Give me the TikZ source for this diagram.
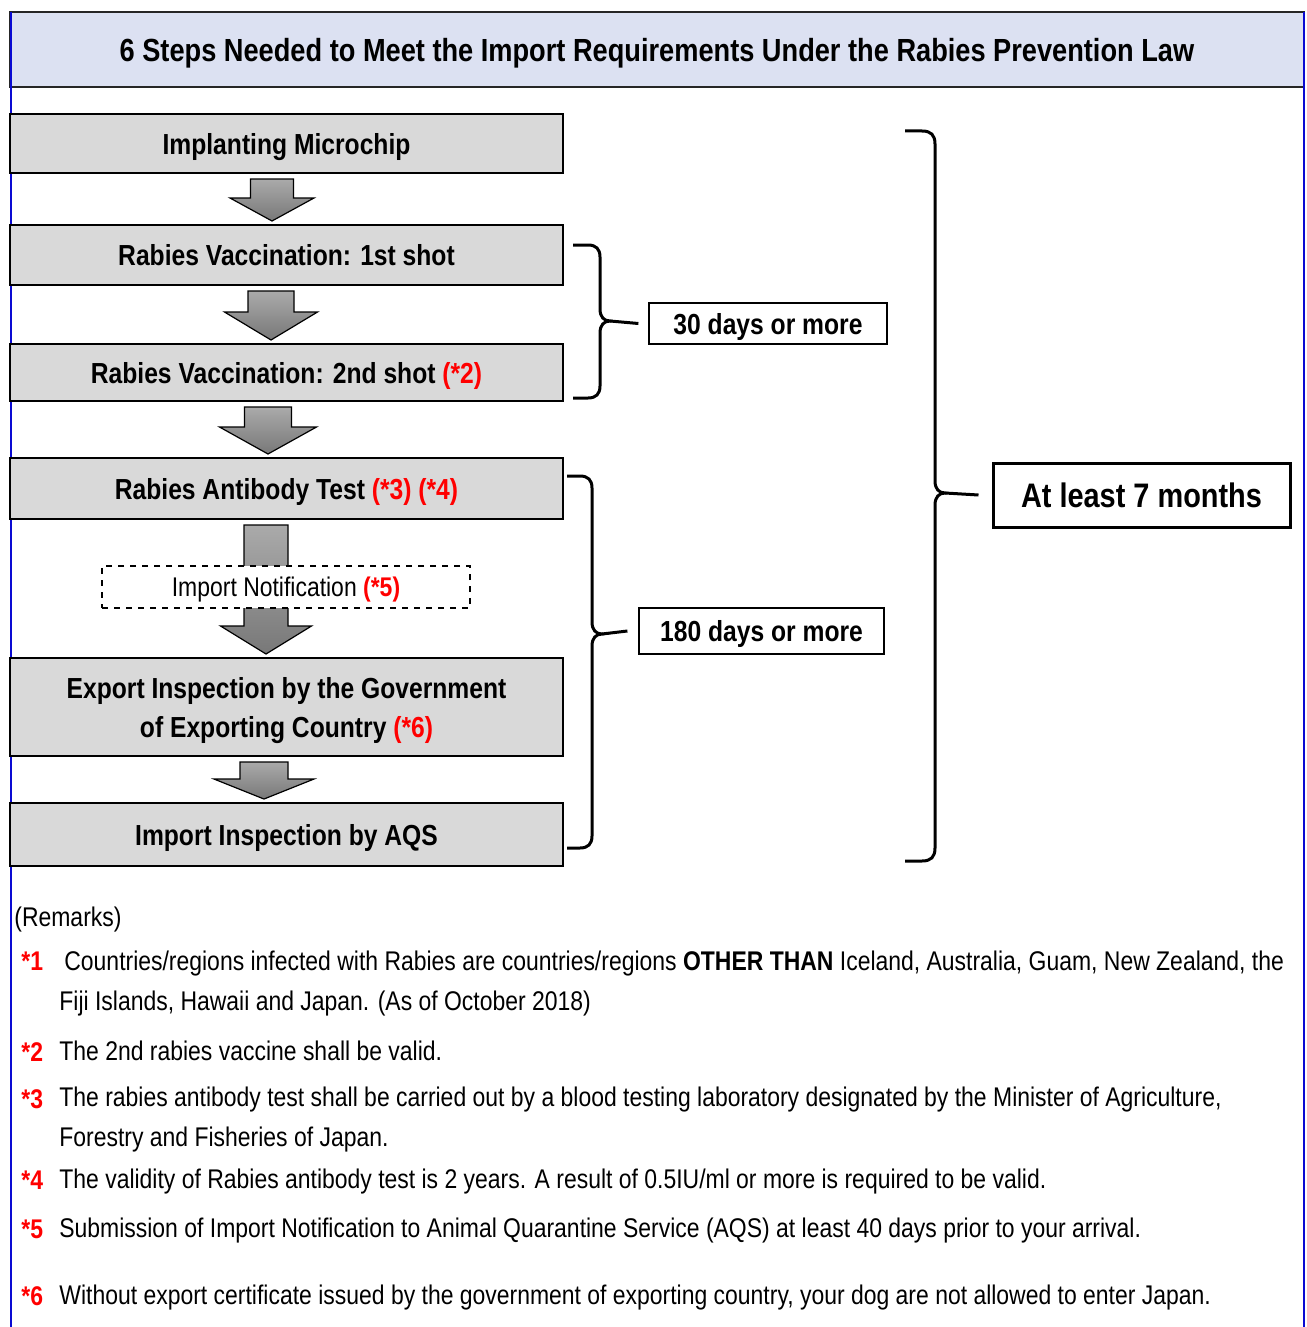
\documentclass[tikz,border=0pt]{standalone}
\usepackage{fontspec}
\setmainfont{Liberation Sans}[FakeStretch=0.85]
\usetikzlibrary{calc}
\definecolor{titlefill}{HTML}{DCE1F2}
\definecolor{boxfill}{HTML}{D9D9D9}
\definecolor{frameblue}{HTML}{0A0AD2}
\definecolor{notered}{HTML}{FF0000}
\definecolor{arrtop}{HTML}{AAAAAA}
\definecolor{arrbot}{HTML}{787878}
\newcommand{\fn}[1]{\textcolor{notered}{#1}}
% block arrow between two steps: from, to, x offset, shaft half, head half, head length
\newcommand{\steparrow}[6]{%
  \draw[blockarr] ($(#1.south)+(#3-#4,5)$) -- ($(#1.south)+(#3+#4,5)$)
    -- ($(#2.north)+(#3+#4,-3-#6)$) -- ($(#2.north)+(#3+#5,-3-#6)$)
    -- ($(#2.north)+(#3,-3)$) -- ($(#2.north)+(#3-#5,-3-#6)$)
    -- ($(#2.north)+(#3-#4,-3-#6)$) -- cycle;}
\tikzset{
  stepbox/.style={draw=black, line width=1pt, fill=boxfill, minimum width=276.5pt,
    inner sep=0pt, text depth=0pt, align=center, font=\bfseries\fontsize{14.5}{19.5}\selectfont},
  daysbox/.style={draw=black, line width=0.6pt, fill=white, inner sep=0pt, text depth=0pt,
    font=\bfseries\fontsize{14.5}{16}\selectfont},
  monthbox/.style={draw=black, line width=1.5pt, fill=white, inner sep=0pt,
    font=\bfseries\fontsize{17}{20}\selectfont},
  notebox/.style={draw=black, dashed, line width=0.6pt, fill=white, inner sep=0pt, text depth=0pt,
    font=\fontsize{13.5}{15}\selectfont},
  blockarr/.style={draw=black, line width=0.6pt, top color=arrtop, bottom color=arrbot},
  bracket/.style={draw=black, line width=1.5pt},
  remark/.style={anchor=base west, inner sep=0pt, font=\fontsize{13.5}{15}\selectfont},
  remarkno/.style={remark, text=notered, font=\bfseries\fontsize{13.5}{15}\selectfont},
}
\begin{document}
\begin{tikzpicture}[x=0.5pt, y=-0.5pt]
\useasboundingbox (0,0) rectangle (1306,1327);
\fill[white] (0,0) rectangle (1306,1327);
%
\node[draw=black!85, line width=0.8pt, fill=titlefill, minimum width=647pt, minimum height=37.5pt,
  inner sep=0pt, text depth=0pt, font=\bfseries\fontsize{16}{18}\selectfont] (title) at (657,49.5)
  {6 Steps Needed to Meet the Import Requirements Under the Rabies Prevention Law};
\draw[frameblue, line width=1pt] (11,12) -- (11,1327);
\draw[frameblue, line width=1pt] (1304,12) -- (1304,1327);
%
\node[stepbox, minimum height=29.5pt] (s1) at (286.5,143.5) {Implanting Microchip};
\node[stepbox, minimum height=30pt] (s2) at (286.5,255) {Rabies Vaccination: 1st shot};
\node[stepbox, minimum height=28.5pt] (s3) at (286.5,372.5) {Rabies Vaccination: 2nd shot \fn{(*2)}};
\node[stepbox, minimum height=30.5pt] (s4) at (286.5,488.5) {Rabies Antibody Test \fn{(*3) (*4)}};
\node[stepbox, minimum height=49pt] (s5) at (286.5,707)
  {Export Inspection by the Government\\of Exporting Country \fn{(*6)}};
\node[stepbox, minimum height=31.5pt] (s6) at (286.5,834.5) {Import Inspection by AQS};
%
\steparrow{s1}{s2}{-14.5}{21.5}{42}{23}
\steparrow{s2}{s3}{-15.5}{23}{46.5}{28}
\steparrow{s3}{s4}{-18.5}{23.5}{48.5}{27}
\steparrow{s4}{s5}{-20.5}{22}{45.5}{28}
\steparrow{s5}{s6}{-22.5}{24}{50}{20}
%
\node[notebox, minimum width=184pt, minimum height=21pt] (notif) at (286,587)
  {Import Notification \textbf{\fn{(*5)}}};
%
\node[daysbox, minimum width=119pt, minimum height=20.5pt] (d30) at (768,323.5) {30 days or more};
\node[daysbox, minimum width=122.5pt, minimum height=23pt] (d180) at (761.5,631) {180 days or more};
\node[monthbox, minimum width=148.5pt, minimum height=32pt] (m7) at (1141.5,495) {At least 7 months};
%
\draw[bracket] (573,245) -- (588,245) .. controls (596,245) and (600,249) .. (600,257)
  -- (600,309) .. controls (600,317) and (604,321) .. (610,321) coordinate (tipA)
  .. controls (604,321) and (600,325) .. (600,333) -- (600,386)
  .. controls (600,394) and (596,398) .. (588,398) -- (573,398);
\draw[bracket] (tipA) -- ([xshift=-5pt]d30.west);
%
\draw[bracket] (567,476) -- (580,476) .. controls (588,476) and (592,480) .. (592,488)
  -- (592,622) .. controls (592,630) and (596,634) .. (602,634) coordinate (tipB)
  .. controls (596,634) and (592,638) .. (592,646) -- (592,836)
  .. controls (592,844) and (588,848) .. (580,848) -- (567,848);
\draw[bracket] (tipB) -- ([xshift=-5.5pt]d180.west);
%
\draw[bracket] (905,131) -- (922,131) .. controls (931,131) and (935,135) .. (935,144)
  -- (935,481) .. controls (935,489) and (939,493) .. (945,493) coordinate (tipC)
  .. controls (939,493) and (935,497) .. (935,505) -- (935,848)
  .. controls (935,857) and (931,861) .. (922,861) -- (905,861);
\draw[bracket] (tipC) -- ([xshift=-6.5pt]m7.west);
%
\node[remark] (rhead) at (14,926) {(Remarks)};
\node[remarkno] (n1) at (21,970) {*1};
\node[remark] (r1a) at (64,970) {Countries/regions infected with Rabies are countries/regions \textbf{OTHER THAN} Iceland, Australia, Guam, New Zealand, the};
\node[remark] (r1b) at (59,1010) {Fiji Islands, Hawaii and Japan. (As of October 2018)};
\node[remarkno] (n2) at (21,1061) {*2};
\node[remark] (r2) at (59,1060) {The 2nd rabies vaccine shall be valid.};
\node[remarkno] (n3) at (21,1108) {*3};
\node[remark] (r3a) at (59,1106) {The rabies antibody test shall be carried out by a blood testing laboratory designated by the Minister of Agriculture,};
\node[remark] (r3b) at (59,1146) {Forestry and Fisheries of Japan.};
\node[remarkno] (n4) at (21,1189) {*4};
\node[remark] (r4) at (59,1188) {The validity of Rabies antibody test is 2 years. A result of 0.5IU/ml or more is required to be valid.};
\node[remarkno] (n5) at (21,1238) {*5};
\node[remark] (r5) at (59,1237) {Submission of Import Notification to Animal Quarantine Service (AQS) at least 40 days prior to your arrival.};
\node[remarkno] (n6) at (21,1305) {*6};
\node[remark] (r6) at (59,1304) {Without export certificate issued by the government of exporting country, your dog are not allowed to enter Japan.};
\end{tikzpicture}
\end{document}
